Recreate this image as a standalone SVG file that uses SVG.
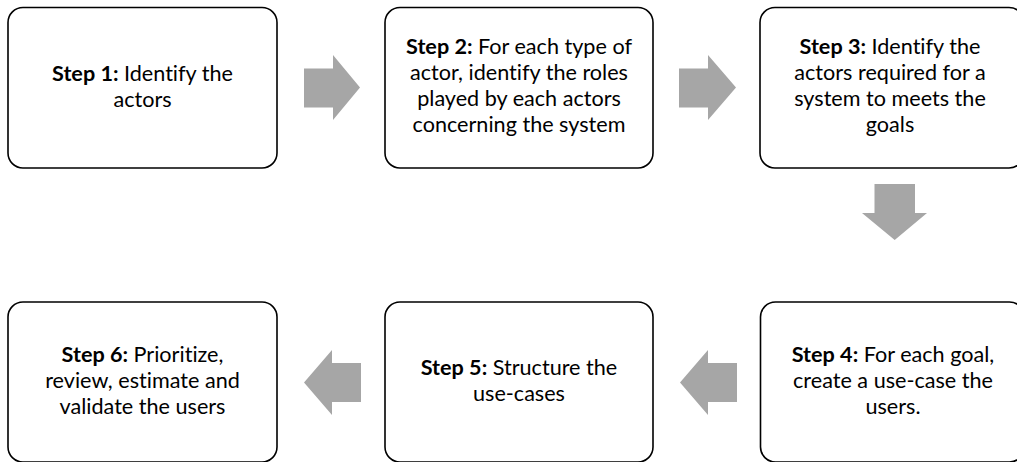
<svg xmlns="http://www.w3.org/2000/svg" width="1017" height="462" viewBox="0 0 1017 462">
<style>
.box{fill:#fff;stroke:#000;stroke-width:1.6}
.t{font-family:Lato,"Open Sans","Liberation Sans",sans-serif;font-size:21.6px;fill:#000;text-anchor:middle;font-variant-ligatures:none}
.b{font-weight:bold}
.arr{fill:#a6a6a6}
</style>
<rect width="1017" height="462" fill="#fff"/>
<g id="node1">
<rect class="box" x="8" y="7.5" width="269" height="160.5" rx="15"/>
<text class="t" x="142.5" y="81"><tspan class="b">Step 1:</tspan> Identify the</text>
<text class="t" x="142.5" y="107">actors</text>
</g>
<g id="node2">
<rect class="box" x="385" y="7.5" width="268" height="160.5" rx="15"/>
<text class="t" x="519" y="54"><tspan class="b">Step 2:</tspan> For each type of</text>
<text class="t" x="519" y="80">actor, identify the roles</text>
<text class="t" x="519" y="106">played by each actors</text>
<text class="t" x="519" y="132">concerning the system</text>
</g>
<g id="node3">
<rect class="box" x="760" y="7.5" width="264" height="160.5" rx="15"/>
<text class="t" x="890" y="54"><tspan class="b">Step 3:</tspan> Identify the</text>
<text class="t" x="890" y="80">actors required for a</text>
<text class="t" x="890" y="106">system to meets the</text>
<text class="t" x="890" y="132">goals</text>
</g>
<g id="node4">
<rect class="box" x="760.5" y="302" width="264" height="160" rx="15"/>
<text class="t" x="893" y="362"><tspan class="b">Step 4:</tspan> For each goal,</text>
<text class="t" x="893" y="388">create a use-case the</text>
<text class="t" x="893" y="414">users.</text>
</g>
<g id="node5">
<rect class="box" x="385" y="302" width="268" height="160" rx="15"/>
<text class="t" x="519" y="375"><tspan class="b">Step 5:</tspan> Structure the</text>
<text class="t" x="519" y="401">use-cases</text>
</g>
<g id="node6">
<rect class="box" x="8" y="302" width="269" height="160" rx="15"/>
<text class="t" x="142.5" y="362"><tspan class="b">Step 6:</tspan> Prioritize,</text>
<text class="t" x="142.5" y="388">review, estimate and</text>
<text class="t" x="142.5" y="414">validate the users</text>
</g>
<g id="connectors">
<polygon class="arr" points="304,68.5 333,68.5 333,55 360,87.5 333,120 333,107.5 304,107.5"/>
<polygon class="arr" points="679,68.5 708,68.5 708,55 736,87.5 708,120 708,107.5 679,107.5"/>
<polygon class="arr" points="874.5,184 915,184 915,213 927,213 894.7,240 862,213 874.5,213"/>
<polygon class="arr" points="737,363 708,363 708,350 680,382.5 708,415 708,402 737,402"/>
<polygon class="arr" points="361,363 332,363 332,350 304,382.5 332,415 332,402 361,402"/>
</g>
</svg>
